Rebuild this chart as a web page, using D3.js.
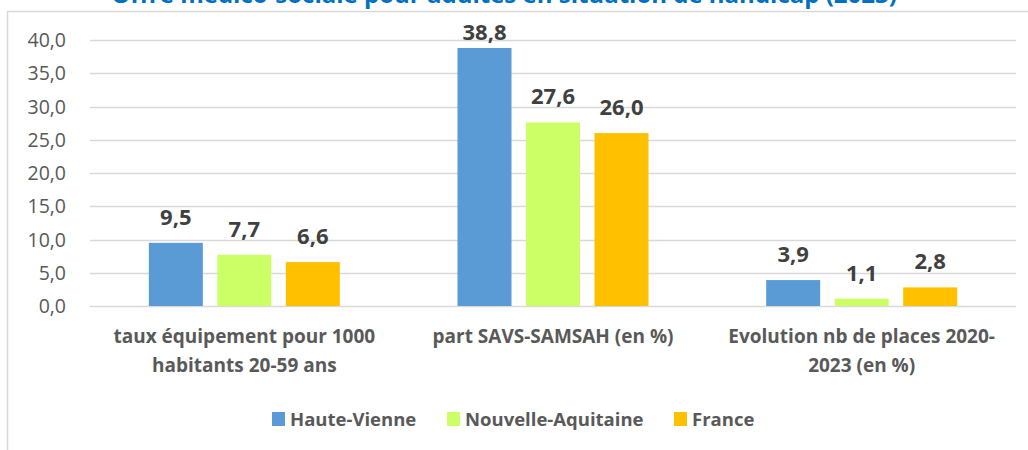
<!DOCTYPE html>
<html>
<head>
<meta charset="utf-8">
<script src="https://cdn.jsdelivr.net/npm/d3@7"></script>
<style>
body { margin: 0; background: #fff; }
text { font-family: "Open Sans", Lato, sans-serif; }
</style>
</head>
<body>
<div id="chart"></div>
<script>
var categories = [
    ["taux équipement pour 1000", "habitants 20-59 ans"],
    ["part SAVS-SAMSAH (en %)"],
    ["Evolution nb de places 2020-", "2023 (en %)"]
];
var seriesNames = ["Haute-Vienne", "Nouvelle-Aquitaine", "France"];
var seriesColors = ["#5b9bd5", "#ccff66", "#ffc000"];
var hauteVienne = [9.5, 38.8, 3.9];
var nouvelleAquitaine = [7.7, 27.6, 1.1];
var france = [6.6, 26.0, 2.8];
var yTicks = [0, 5, 10, 15, 20, 25, 30, 35, 40];
var title = "Offre médico-sociale pour adultes en situation de handicap (2023)";

function fmt(v) {
    "use strict";
    return v.toFixed(1).replace(".", ",");
}

function drawChart() {
    "use strict";
    var width = 1028;
    var height = 450;
    var values = [hauteVienne, nouvelleAquitaine, france];

    var svg = d3.select("#chart")
        .append("svg")
        .attr("width", width)
        .attr("height", height);

    // chart frame (partly cut off like the original)
    svg.append("path")
        .attr("d", "M7.5,460V11.5H1040")
        .attr("fill", "none")
        .attr("stroke", "#d9d9d9")
        .attr("stroke-width", 1.5);

    // title, only its lower edge is visible in the source picture
    svg.append("text")
        .attr("x", 504)
        .attr("y", 2.5)
        .attr("text-anchor", "middle")
        .attr("font-size", 24)
        .attr("font-weight", "bold")
        .attr("fill", "#0070c0")
        .text(title);

    var x = d3.scaleBand()
        .domain(d3.range(categories.length))
        .range([90, 1016]);
    var y = d3.scaleLinear()
        .domain([0, 40])
        .range([306, 40]);

    // gridlines
    svg.append("g")
        .selectAll("line")
        .data(yTicks)
        .enter()
        .append("line")
        .attr("x1", 90)
        .attr("x2", 1016)
        .attr("y1", function(d) { return Math.round(y(d)) + 0.5; })
        .attr("y2", function(d) { return Math.round(y(d)) + 0.5; })
        .attr("stroke", "#d9d9d9")
        .attr("stroke-width", 1.3);

    // y tick labels
    svg.append("g")
        .selectAll("text")
        .data(yTicks)
        .enter()
        .append("text")
        .attr("x", 66)
        .attr("y", function(d) { return y(d); })
        .attr("dy", "0.36em")
        .attr("text-anchor", "end")
        .attr("font-size", 19.5)
        .attr("fill", "#595959")
        .text(fmt);

    var barW = 54;
    var step = 68.5;

    var groups = svg.append("g")
        .selectAll("g")
        .data(values)
        .enter()
        .append("g");

    groups.selectAll("rect")
        .data(function(s, i) {
            return s.map(function(v, c) { return {v: v, c: c, s: i}; });
        })
        .enter()
        .append("rect")
        .attr("x", function(d) {
            return x(d.c) + x.bandwidth() / 2 + (d.s - 1) * step - barW / 2;
        })
        .attr("y", function(d) { return y(d.v); })
        .attr("width", barW)
        .attr("height", function(d) { return y(0) - y(d.v); })
        .attr("fill", function(d) { return seriesColors[d.s]; });

    // value labels, kept inside the plot area at the top
    groups.selectAll("text")
        .data(function(s, i) {
            return s.map(function(v, c) { return {v: v, c: c, s: i}; });
        })
        .enter()
        .append("text")
        .attr("x", function(d) {
            return x(d.c) + x.bandwidth() / 2 + (d.s - 1) * step;
        })
        .attr("y", function(d) { return Math.max(y(d.v) - 18, 40); })
        .attr("text-anchor", "middle")
        .attr("font-size", 22)
        .attr("font-weight", "bold")
        .attr("fill", "#404040")
        .text(function(d) { return fmt(d.v); });

    // category labels
    var catText = svg.append("g")
        .selectAll("text")
        .data(categories)
        .enter()
        .append("text")
        .attr("text-anchor", "middle")
        .attr("font-size", 19)
        .attr("font-weight", "bold")
        .attr("fill", "#595959");
    catText.selectAll("tspan")
        .data(function(d, i) {
            return d.map(function(t) { return {t: t, i: i}; });
        })
        .enter()
        .append("tspan")
        .attr("x", function(d) { return x(d.i) + x.bandwidth() / 2; })
        .attr("y", function(d, j) { return 343 + j * 29; })
        .text(function(d) { return d.t; });

    // legend
    var legendX = [272, 447, 674];
    var legend = svg.append("g")
        .selectAll("g")
        .data(seriesNames)
        .enter()
        .append("g")
        .attr("transform", function(d, i) {
            return "translate(" + legendX[i] + ",419)";
        });
    legend.append("rect")
        .attr("x", 0)
        .attr("y", -7)
        .attr("width", 13)
        .attr("height", 14)
        .attr("fill", function(d, i) { return seriesColors[i]; });
    legend.append("text")
        .attr("x", 18)
        .attr("dy", "0.36em")
        .attr("font-size", 18.5)
        .attr("font-weight", "bold")
        .attr("fill", "#595959")
        .text(function(d) { return d; });
}

drawChart();
</script>
</body>
</html>
